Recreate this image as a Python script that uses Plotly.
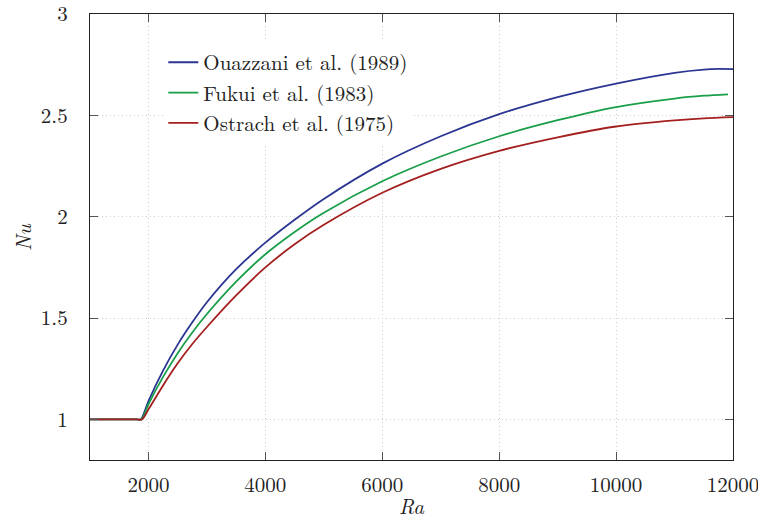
import plotly.graph_objects as go

# Rayleigh numbers (x) and Nusselt numbers (y)
ra_ouazzani = [1000, 1800, 1870, 2000, 2250, 2500, 2750, 3000, 3500, 4000, 4500, 5000,
               6000, 7000, 8000, 9000, 10000, 11000, 11500, 11750, 12000]
nu_ouazzani = [1.0, 1.0, 1.0, 1.091, 1.241, 1.369, 1.479, 1.578, 1.741, 1.872, 1.985, 2.088,
               2.262, 2.397, 2.506, 2.590, 2.657, 2.710, 2.726, 2.729, 2.728]

ra_fukui = [1000, 1800, 1880, 2000, 2250, 2500, 2750, 3000, 3500, 4000, 4500, 5000,
            6000, 7000, 8000, 9000, 10000, 11000, 11500, 11915]
nu_fukui = [1.0, 1.0, 1.0, 1.075, 1.21, 1.327, 1.429, 1.52, 1.68, 1.815, 1.925, 2.02,
            2.175, 2.297, 2.397, 2.476, 2.541, 2.583, 2.597, 2.604]

ra_ostrach = [1000, 1800, 1890, 2000, 2250, 2500, 2750, 3000, 3500, 4000, 4500, 5000,
              6000, 7000, 8000, 9000, 10000, 11000, 11500, 12000]
nu_ostrach = [1.0, 1.0, 1.0, 1.05, 1.168, 1.277, 1.372, 1.456, 1.612, 1.75, 1.864, 1.96,
              2.118, 2.236, 2.325, 2.392, 2.445, 2.475, 2.485, 2.491]

labels = ["Ouazzani et al. (1989)", "Fukui et al. (1983)", "Ostrach et al. (1975)"]
colors = ["#2b3592", "#1a9e49", "#a3201f"]

x_ticks = [2000, 4000, 6000, 8000, 10000, 12000]
x_tick_text = ["2000", "4000", "6000", "8000", "10000", "12000"]
y_ticks = [1, 1.5, 2, 2.5, 3]
y_tick_text = ["1", "1.5", "2", "2.5", "3"]
x_title = "<i>Ra</i>"
y_title = "<i>Nu</i>"

FONT = "Latin Modern Roman, Liberation Serif, serif"
TXT = "#222222"

fig = go.Figure()
for xs, ys, name, c in zip([ra_ouazzani, ra_fukui, ra_ostrach],
                           [nu_ouazzani, nu_fukui, nu_ostrach], labels, colors):
    fig.add_trace(go.Scatter(x=xs, y=ys, mode="lines", name=name,
                             line=dict(color=c, width=1.8, shape="spline", smoothing=0.8)))

axis_common = dict(
    showline=True, linecolor="#222222", linewidth=1.3, mirror="ticks",
    ticks="inside", ticklen=8, tickwidth=1.2, tickcolor="#555555",
    showgrid=True, gridcolor="#cfcfcf", griddash="1px,3px", gridwidth=1,
    zeroline=False, automargin=False, ticklabeloverflow="allow",
    tickfont=dict(family=FONT, size=21, color=TXT),
)

fig.update_xaxes(range=[1000, 12000], tickvals=x_ticks, ticktext=x_tick_text,
                 ticklabelstandoff=6, **axis_common)
fig.update_yaxes(range=[0.8, 3], tickvals=y_ticks, ticktext=y_tick_text,
                 ticklabelstandoff=17, **axis_common)

# axis titles
fig.add_annotation(text=x_title, xref="paper", yref="paper", x=0.5, y=0,
                   xanchor="center", yanchor="middle", yshift=-45, showarrow=False,
                   font=dict(family=FONT, size=21, color=TXT))
fig.add_annotation(text=y_title, xref="paper", yref="paper", x=0, y=0.5,
                   xanchor="center", yanchor="middle", xshift=-68, textangle=-90,
                   showarrow=False, font=dict(family=FONT, size=21, color=TXT))

fig.update_layout(
    width=758, height=520,
    margin=dict(l=90, r=25, t=14, b=60),
    paper_bgcolor="white", plot_bgcolor="white",
    font=dict(family=FONT, size=21, color=TXT),
    legend=dict(x=0.114, y=0.937, xanchor="left", yanchor="top",
                bgcolor="white", borderwidth=0,
                font=dict(family=FONT, size=21, color=TXT)),
    showlegend=True,
)

fig.write_html("out.html",
               config={"displayModeBar": False},
               post_script="document.body.style.margin='0';"
                           "document.body.style.overflow='hidden';")
